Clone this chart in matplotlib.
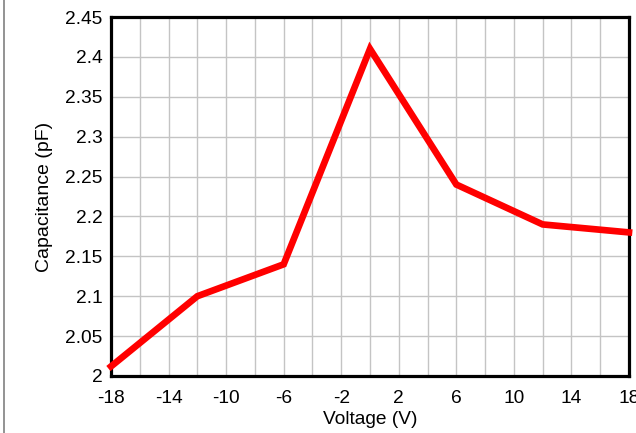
import matplotlib
matplotlib.use('Agg')
import matplotlib.pyplot as plt
from matplotlib.lines import Line2D
import numpy as np

# Capacitance vs voltage
voltage = [-18, -12, -6, 0, 6, 12, 18]
capacitance = [2.012, 2.10, 2.14, 2.41, 2.24, 2.19, 2.18]

x_ticks = [-18, -14, -10, -6, -2, 2, 6, 10, 14, 18]
y_ticks = [2, 2.05, 2.1, 2.15, 2.2, 2.25, 2.3, 2.35, 2.4, 2.45]
y_labels = ['2', '2.05', '2.1', '2.15', '2.2', '2.25', '2.3', '2.35', '2.4', '2.45']

plt.rcParams['font.family'] = ['Liberation Sans', 'DejaVu Sans']
plt.rcParams['axes.unicode_minus'] = False

fig = plt.figure(figsize=(6.36, 4.33), dpi=100)
ax = fig.add_axes([111 / 636, 1 - 376 / 433, (629 - 111) / 636, (376 - 17) / 433])

ax.plot(voltage, capacitance, color='#ff0000', linewidth=4.8, solid_joinstyle='miter',
        zorder=3, clip_on=False)

ax.set_xlim(-18, 18)
ax.set_ylim(2, 2.45)
ax.set_xticks(x_ticks)
ax.set_xticks(np.arange(-18, 19, 2), minor=True)
ax.set_yticks(y_ticks)
ax.set_yticklabels(y_labels)

ax.grid(True, which='both', color='#c4c4c4', linewidth=1.0)
ax.set_axisbelow(True)
ax.tick_params(which='both', length=0, labelsize=13.8, colors='black')
ax.tick_params(axis='x', pad=10)
ax.tick_params(axis='y', pad=6)

for s in ax.spines.values():
    s.set_linewidth(2.3)
    s.set_color('black')

ax.set_xlabel('Voltage (V)', fontsize=13.8, labelpad=3)
ax.set_ylabel('Capacitance (pF)', fontsize=14, labelpad=9)

# thin gray frame line at the left edge of the image
fig.add_artist(Line2D([4 / 636, 4 / 636], [0, 1], color='#808080', linewidth=1.2,
                      transform=fig.transFigure))

fig.savefig('out.png', dpi=100)
